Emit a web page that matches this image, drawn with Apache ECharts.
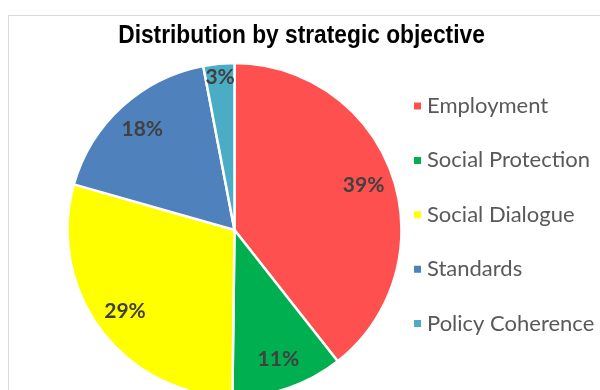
<!DOCTYPE html>
<html>
<head>
<meta charset="utf-8">
<script src="https://cdn.jsdelivr.net/npm/echarts@6/dist/echarts.min.js"></script>
<style>
html,body{margin:0;padding:0;background:#fff;}
#frame{position:absolute;left:8px;top:15px;width:600px;height:400px;border:1px solid #d9d9d9;box-sizing:border-box;}
#chart{position:absolute;left:0;top:0;width:600px;height:390px;}
</style>
</head>
<body>
<div id="frame"></div>
<div id="chart"></div>
<script>
const titleText = 'Distribution by strategic objective';
const categories = ['Employment', 'Social Protection', 'Social Dialogue', 'Standards', 'Policy Coherence'];
const values = [39.4, 10.8, 29.2, 17.6, 3.0];
const colors = ['#FF5050', '#00B050', '#FFFF00', '#4F81BD', '#4BACC6'];

const R = 167;
const center = [234.5, 230];
const data = categories.map((c, i) => ({ name: c, value: values[i], itemStyle: { color: colors[i] } }));
const labelFmt = p => Math.round(p.percent) + '%';
const labelStyle = { fontFamily: 'Lato', fontWeight: 'bold', fontSize: 21, color: '#404040' };

const chart = echarts.init(document.getElementById('chart'), null, { renderer: 'canvas' });
chart.setOption({
  animation: false,
  graphic: [{
    type: 'text', x: 301.5, y: 36, scaleX: 0.91, originX: 0, silent: true,
    style: {
      text: titleText, fill: '#000', align: 'center', verticalAlign: 'middle',
      font: 'bold 25px "Liberation Sans", Arial, sans-serif'
    }
  }],
  legend: {
    orient: 'vertical', left: 407, top: 90, icon: 'rect', itemWidth: 9, itemHeight: 9, itemGap: 32.4,
    data: categories,
    textStyle: { fontFamily: 'Lato', fontSize: 22, color: '#595959', lineHeight: 20 }
  },
  series: [
    {
      type: 'pie', center: center, radius: [0, R], startAngle: 90, clockwise: true,
      data: data, label: { show: false }, labelLine: { show: false },
      itemStyle: { borderColor: '#fff', borderWidth: 2.5 }, silent: true
    },
    {
      type: 'pie', center: center, radius: [R * 0.6, R], startAngle: 90, clockwise: true,
      data: categories.map((c, i) => ({ name: c, value: values[i], label: { show: i !== 4 } })),
      itemStyle: { color: 'rgba(0,0,0,0)' }, silent: true, legendHoverLink: false,
      label: Object.assign({ show: true, position: 'inside', formatter: labelFmt }, labelStyle),
      labelLine: { show: false }
    },
    {
      type: 'pie', center: center, radius: [R * 0.8, R], startAngle: 90, clockwise: true,
      data: categories.map((c, i) => ({ name: c, value: values[i], label: { show: i === 4 } })),
      itemStyle: { color: 'rgba(0,0,0,0)' }, silent: true, legendHoverLink: false,
      label: Object.assign({ show: true, position: 'inside', formatter: labelFmt }, labelStyle),
      labelLine: { show: false }
    }
  ]
});
</script>
</body>
</html>
